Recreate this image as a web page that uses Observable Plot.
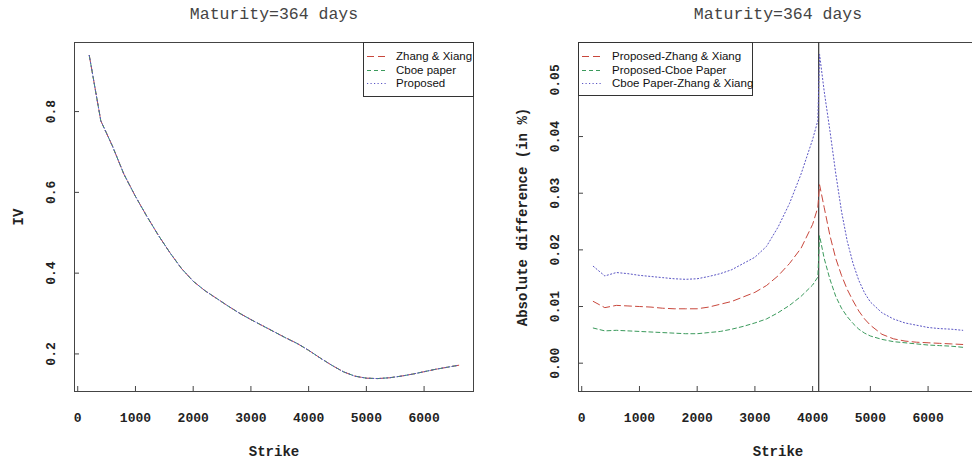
<!DOCTYPE html>
<html>
<head>
<meta charset="utf-8">
<script src="https://cdn.jsdelivr.net/npm/d3@7"></script>
<script src="https://cdn.jsdelivr.net/npm/@observablehq/plot@0.6"></script>
<style>
  html, body { margin: 0; padding: 0; background: #fff; }
  body { width: 972px; height: 464px; overflow: hidden; }
  #wrap { position: relative; width: 972px; height: 464px; overflow: hidden; }
  .panel { position: absolute; top: 0; height: 464px; }
  .panel svg { max-width: none !important; }
  .legend { position: absolute; background: #fff; border: 1px solid #333; box-sizing: border-box;
            font-family: "Liberation Sans", Arial, sans-serif; font-size: 11.5px; color: #111; }
  .legend .row { position: absolute; left: 0; height: 14px; line-height: 14px; white-space: nowrap; }
  .legend svg { position: absolute; top: 0; }
  .legend span { position: absolute; top: 0; }
</style>
</head>
<body>
<div id="wrap"></div>
<script>
// ---------------- data ----------------
const title = "Maturity=364 days";
const xTicks = [0, 1000, 2000, 3000, 4000, 5000, 6000];
const ivTicks = [0.2, 0.4, 0.6, 0.8];
const diffTicks = [0.00, 0.01, 0.02, 0.03, 0.04, 0.05];

// Left panel: implied volatility (the three estimates coincide at this resolution)
const ivStrikes = [200, 400, 600, 800, 1000, 1200, 1400, 1600, 1800, 2000, 2200, 2400, 2600, 2800, 3000, 3200,
  3400, 3600, 3800, 4000, 4200, 4400, 4600, 4800, 5000, 5200, 5400, 5600, 5800, 6000, 6200, 6400, 6600];
const ivZhangXiang = [0.939, 0.777, 0.715, 0.645, 0.590, 0.540, 0.493, 0.450, 0.411, 0.380, 0.357, 0.338, 0.319,
  0.301, 0.285, 0.270, 0.255, 0.240, 0.226, 0.209, 0.190, 0.172, 0.156, 0.145, 0.140, 0.139, 0.141, 0.145, 0.150,
  0.156, 0.162, 0.167, 0.172];
const ivCboe = [0.939, 0.777, 0.715, 0.645, 0.590, 0.540, 0.493, 0.450, 0.411, 0.380, 0.357, 0.338, 0.319,
  0.301, 0.285, 0.270, 0.255, 0.240, 0.226, 0.209, 0.190, 0.172, 0.156, 0.145, 0.140, 0.139, 0.141, 0.145, 0.150,
  0.156, 0.162, 0.167, 0.172];
const ivProposed = [0.939, 0.777, 0.715, 0.645, 0.590, 0.540, 0.493, 0.450, 0.411, 0.380, 0.357, 0.338, 0.319,
  0.301, 0.285, 0.270, 0.255, 0.240, 0.226, 0.209, 0.190, 0.172, 0.156, 0.145, 0.140, 0.139, 0.141, 0.145, 0.150,
  0.156, 0.162, 0.167, 0.172];

// Right panel: absolute differences
const diffStrikes = [200, 400, 600, 800, 1000, 1200, 1400, 1600, 1800, 2000, 2200, 2400, 2600, 2800, 3000, 3200,
  3400, 3600, 3800, 4000, 4090, 4120, 4200, 4300, 4400, 4500, 4600, 4700, 4800, 4900, 5000, 5200, 5400, 5600,
  5800, 6000, 6200, 6400, 6600];
const propZhang = [0.0109, 0.0098, 0.0102, 0.0101, 0.0100, 0.0099, 0.0097, 0.0096, 0.0096, 0.0096, 0.0099, 0.0104,
  0.0109, 0.0117, 0.0125, 0.0137, 0.0154, 0.0176, 0.0203, 0.0245, 0.0275, 0.0315, 0.0275, 0.0225, 0.0185, 0.0155,
  0.0130, 0.0110, 0.0092, 0.0078, 0.0067, 0.0051, 0.0043, 0.0039, 0.0037, 0.0036, 0.0035, 0.0034, 0.0033];
const propCboe = [0.0062, 0.0057, 0.0058, 0.0057, 0.0056, 0.0055, 0.0054, 0.0053, 0.0052, 0.0052, 0.0054, 0.0056,
  0.0060, 0.0065, 0.0071, 0.0078, 0.0089, 0.0102, 0.0118, 0.0138, 0.0152, 0.0225, 0.0185, 0.0148, 0.0118, 0.0097,
  0.0082, 0.0070, 0.0060, 0.0053, 0.0048, 0.0042, 0.0038, 0.0036, 0.0034, 0.0032, 0.0031, 0.0030, 0.0028];
const cboeZhang = [0.0171, 0.0154, 0.0160, 0.0158, 0.0155, 0.0153, 0.0151, 0.0149, 0.0148, 0.0149, 0.0153, 0.0158,
  0.0165, 0.0176, 0.0187, 0.0206, 0.0240, 0.0282, 0.0334, 0.0395, 0.0428, 0.0545, 0.0480, 0.0410, 0.0335, 0.0268,
  0.0215, 0.0176, 0.0146, 0.0124, 0.0108, 0.0089, 0.0078, 0.0071, 0.0067, 0.0063, 0.0061, 0.0060, 0.0058];
const spotStrike = 4105;

const leftSeries = ["Zhang & Xiang", "Cboe paper", "Proposed"];
const rightSeries = ["Proposed-Zhang & Xiang", "Proposed-Cboe Paper", "Cboe Paper-Zhang & Xiang"];

// ---------------- styles ----------------
const RED = "#c8473c", GREEN = "#3b9a5c", BLUE = "#5a55c4";
const DASH = ["7,4", "4,3", "1.2,2.3"];
const COLORS = [RED, GREEN, BLUE];
const MONO = "'Liberation Mono', 'Courier New', monospace";
const AX = "#444";

const xDomain = [-56, 6856];
const H = 464, MT = 42, MB = 73;
const frameH = H - MT - MB;
const frameW = 399;

function rows(xs, ys) { return xs.map((x, i) => ({x, y: ys[i]})); }

const txt = {textAnchor: "middle", lineAnchor: "middle", fill: "#222", fontFamily: MONO};

function axesMarks(yTicks, yFmt, yLabel) {
  return [
    Plot.frame({stroke: AX}),
    Plot.tickX(xTicks, {x: d => d, stroke: AX, insetTop: frameH - 5}),
    Plot.tickY(yTicks, {y: d => d, stroke: AX, insetRight: frameW - 5}),
    Plot.text(xTicks, {...txt, x: d => d, text: d => String(d), frameAnchor: "bottom", dy: 26,
      fontWeight: "bold", fontSize: 13}),
    Plot.text(yTicks, {...txt, y: d => d, text: yFmt, frameAnchor: "left", dx: -24, rotate: -90,
      fontWeight: "bold", fontSize: 13}),
    Plot.text(["Strike"], {...txt, text: d => d, frameAnchor: "bottom", dy: 60,
      fontWeight: "bold", fontSize: 14}),
    Plot.text([yLabel], {...txt, text: d => d, frameAnchor: "left", dx: -56, rotate: -90,
      fontWeight: "bold", fontSize: 14}),
    Plot.text([title], {...txt, text: d => d, frameAnchor: "top", dy: -29,
      fontSize: 16.5, fill: "#444"})
  ];
}

const left = Plot.plot({
  width: 486, height: H,
  marginLeft: 74, marginRight: 13, marginTop: MT, marginBottom: MB,
  x: {domain: xDomain, axis: null},
  y: {domain: [0.107, 0.971], axis: null},
  marks: [
    ...axesMarks(ivTicks, d => d.toFixed(1), "IV"),
    Plot.line(rows(ivStrikes, ivZhangXiang), {x: "x", y: "y", stroke: RED, strokeDasharray: DASH[0], strokeWidth: 1}),
    Plot.line(rows(ivStrikes, ivCboe), {x: "x", y: "y", stroke: GREEN, strokeDasharray: DASH[1], strokeWidth: 1}),
    Plot.line(rows(ivStrikes, ivProposed), {x: "x", y: "y", stroke: BLUE, strokeDasharray: DASH[2], strokeWidth: 1})
  ]
});

const right = Plot.plot({
  width: 504, height: H,
  marginLeft: 92, marginRight: 13, marginTop: MT, marginBottom: MB,
  x: {domain: xDomain, axis: null},
  y: {domain: [-0.005, 0.0566], axis: null},
  marks: [
    ...axesMarks(diffTicks, d => d.toFixed(2), "Absolute difference (in %)"),
    Plot.ruleX([spotStrike], {x: d => d, stroke: "#333", strokeWidth: 1.2}),
    Plot.line(rows(diffStrikes, propZhang), {x: "x", y: "y", stroke: RED, strokeDasharray: DASH[0], strokeWidth: 1}),
    Plot.line(rows(diffStrikes, propCboe), {x: "x", y: "y", stroke: GREEN, strokeDasharray: DASH[1], strokeWidth: 1}),
    Plot.line(rows(diffStrikes, cboeZhang), {x: "x", y: "y", stroke: BLUE, strokeDasharray: DASH[2], strokeWidth: 1})
  ]
});
left.style.maxWidth = "none";
right.style.maxWidth = "none";

const wrap = document.getElementById("wrap");
const p1 = document.createElement("div"); p1.className = "panel"; p1.style.left = "0px"; p1.style.width = "486px"; p1.appendChild(left);
const p2 = document.createElement("div"); p2.className = "panel"; p2.style.left = "486px"; p2.style.width = "504px"; p2.appendChild(right);
wrap.appendChild(p1); wrap.appendChild(p2);

function legend(labels, box, sampleX, sampleW, textX) {
  const d = document.createElement("div");
  d.className = "legend";
  Object.assign(d.style, {left: box.x + "px", top: box.y + "px", width: box.w + "px", height: box.h + "px"});
  labels.forEach((lab, i) => {
    const r = document.createElement("div");
    r.className = "row";
    r.style.top = (6 + i * 13.7) + "px";
    r.style.width = "100%";
    r.innerHTML = `<svg width="${sampleW}" height="14" style="left:${sampleX}px"><line x1="0" x2="${sampleW}" y1="7.5" y2="7.5" stroke="${COLORS[i]}" stroke-width="1" stroke-dasharray="${DASH[i]}"/></svg><span style="left:${textX}px">${lab.replace(/&/g, "&amp;")}</span>`;
    d.appendChild(r);
  });
  wrap.appendChild(d);
}
legend(leftSeries, {x: 363, y: 42, w: 111, h: 55}, 3, 21, 32);
legend(rightSeries, {x: 578, y: 42, w: 175, h: 54}, 3, 21, 33);
</script>
</body>
</html>
